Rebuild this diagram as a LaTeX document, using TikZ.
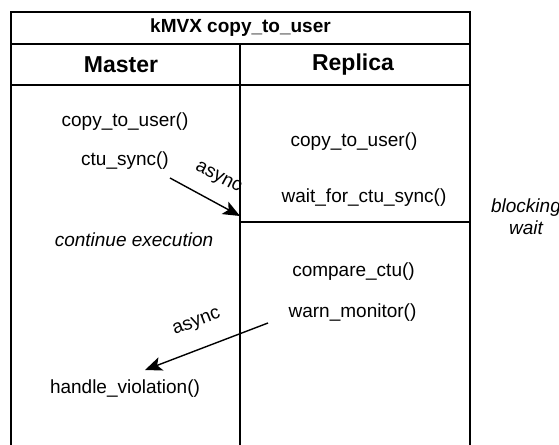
\documentclass[tikz,border=0pt]{standalone}
\usepackage{fontspec}
\setmainfont{Liberation Sans}
\usetikzlibrary{arrows.meta}
\begin{document}
\begin{tikzpicture}[x=1pt,y=-1pt,
  frame/.style={line width=1.4pt,line cap=rect},
  body/.style={inner sep=0pt,font=\fontsize{19}{22}\selectfont},
  itbody/.style={body,font=\fontsize{19}{22}\selectfont\itshape},
  titletxt/.style={inner sep=0pt,font=\fontsize{19}{22}\selectfont\bfseries},
  headtxt/.style={inner sep=0pt,font=\fontsize{23}{26}\selectfont\bfseries},
  msg/.style={line width=1.4pt,-{Stealth[length=17pt,width=14pt,inset=4pt]}}]
\useasboundingbox (0,0) rectangle (559,444);
% frame
\draw[frame] (11,450) -- (11,12) -- (470,12) -- (470,450);
\draw[frame] (11,44) -- (470,44);
\draw[frame] (11,85) -- (470,85);
\draw[frame] (240,44) -- (240,450);
\draw[frame] (240,222) -- (470,222);
% headers
\node[titletxt] (title) at (240.5,28) {kMVX copy\_to\_user};
\node[headtxt] (master) at (121,65) {Master};
\node[headtxt] (replica) at (353,65) {Replica};
% master column
\node[body] (mctu) at (125,122) {copy\_to\_user()};
\node[body] (msync) at (125,161) {ctu\_sync()};
\node[itbody] (cont) at (134,240) {continue execution};
\node[body] (handle) at (125,389) {handle\_violation()};
% replica column
\node[body] (rctu) at (354,142) {copy\_to\_user()};
\node[body] (rwait) at (364,198) {wait\_for\_ctu\_sync()};
\node[body] (cmp) at (353.5,272) {compare\_ctu()};
\node[body] (warn) at (352.5,313) {warn\_monitor()};
% blocking wait
\node[itbody,align=center] (block) at (526,217) {blocking\\wait};
% arrows
\coordinate (a1s) at (170,178);
\coordinate (a1e) at (240,216);
\coordinate (a2s) at (268,323);
\coordinate (a2e) at (145,370);
\node[body,rotate=-28] (as1) at (218,178) {async};
\node[body,rotate=21] (as2) at (197,323) {async};
\draw[msg] (a1s) -- (a1e);
\draw[msg] (a2s) -- (a2e);
\end{tikzpicture}
\end{document}
